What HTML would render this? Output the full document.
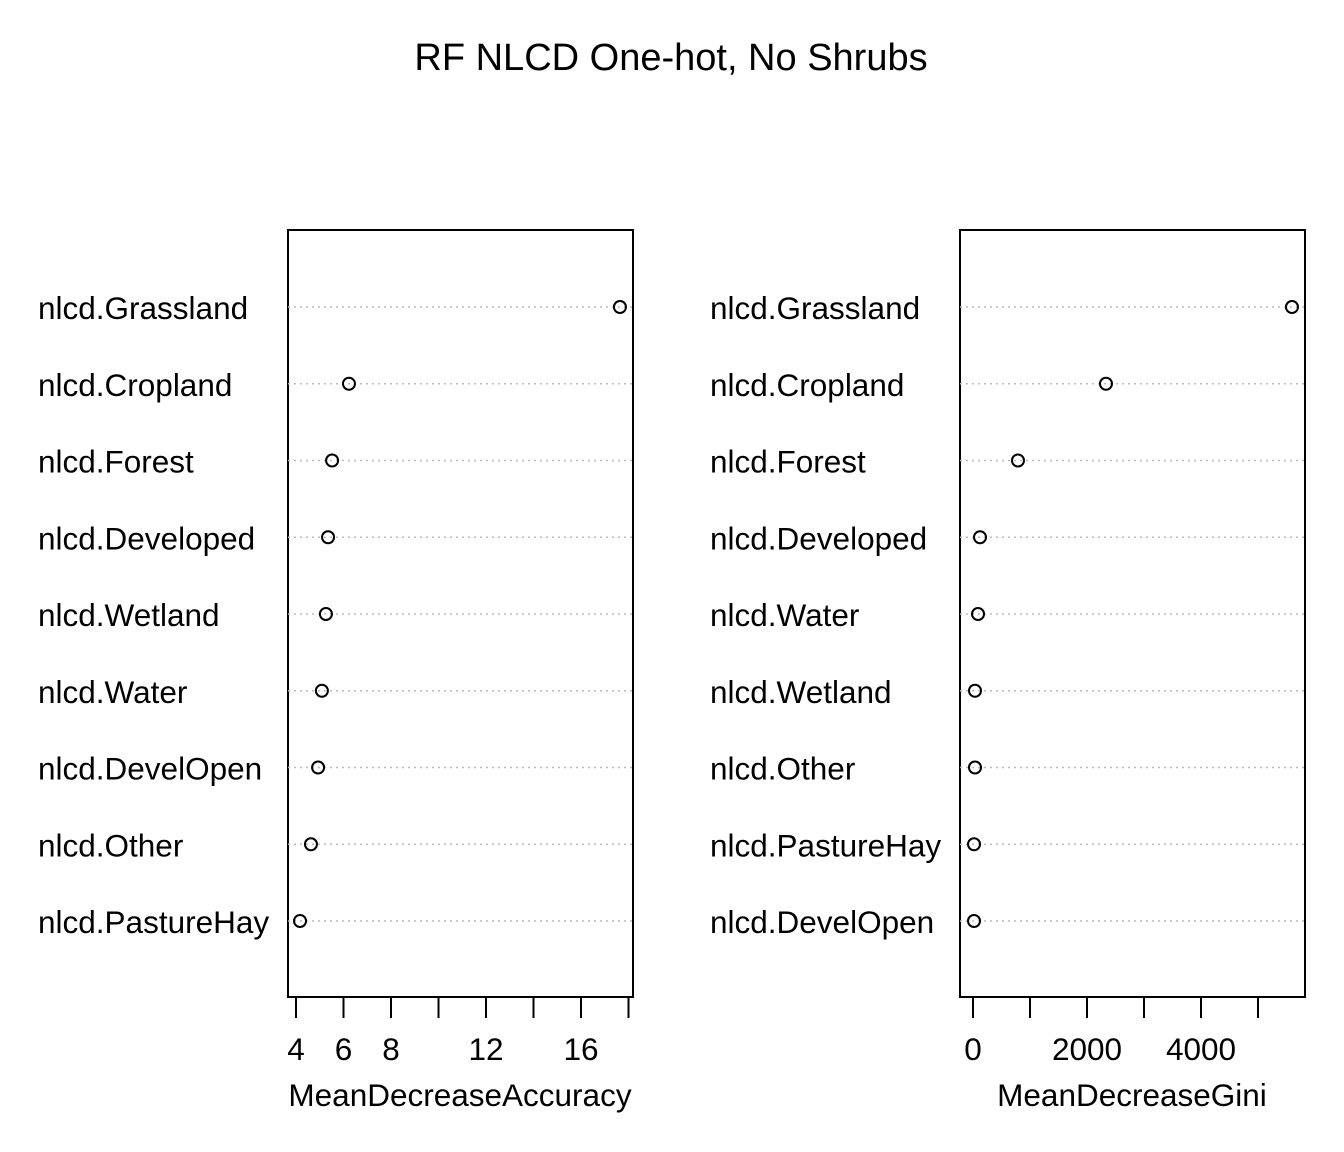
<!DOCTYPE html>
<html><head><meta charset="utf-8"><style>
html,body{margin:0;padding:0;background:#fff;}
svg{display:block;font-family:"Liberation Sans",Arial,sans-serif;}
</style></head><body>
<svg id="chart" width="1344" height="1152" viewBox="0 0 1344 1152">
<text x="671" y="70" text-anchor="middle" font-size="38">RF NLCD One-hot, No Shrubs</text>
</svg>
<script>
const accLabels=["nlcd.Grassland","nlcd.Cropland","nlcd.Forest","nlcd.Developed","nlcd.Wetland","nlcd.Water","nlcd.DevelOpen","nlcd.Other","nlcd.PastureHay"];
const accValues=[17.64,6.23,5.52,5.35,5.26,5.09,4.93,4.63,4.17];
const accTicks=[4,6,8,10,12,14,16,18];
const accTickLabels=["4","6","8","","12","","16",""];
const giniLabels=["nlcd.Grassland","nlcd.Cropland","nlcd.Forest","nlcd.Developed","nlcd.Water","nlcd.Wetland","nlcd.Other","nlcd.PastureHay","nlcd.DevelOpen"];
const giniValues=[5596,2333,789,123,88,35,35,18,18];
const giniTicks=[0,1000,2000,3000,4000,5000];
const giniTickLabels=["0","","2000","","4000",""];

const svg=document.getElementById('chart');
const NS="http://www.w3.org/2000/svg";
function mk(tag,attrs,parent){const e=document.createElementNS(NS,tag);for(const k in attrs)e.setAttribute(k,attrs[k]);(parent||svg).appendChild(e);return e;}
const rowY=i=>307+i*76.75;

function panel(opt){
  const g=mk('g',{});
  
  
  const x=v=>opt.x0+(v-opt.v0)*opt.scale;
  const box=mk('rect',{x:opt.left,y:230,width:345,height:767,fill:'none',stroke:'#000','stroke-width':2},g);
  
  
  opt.labels.forEach((lab,i)=>{
    const y=rowY(i);
    const gl=mk('line',{x1:opt.left,x2:opt.left+345,y1:y,y2:y,stroke:'#bbb','stroke-width':1.5,'stroke-dasharray':'2 4'},g);
    
    
    const t=mk('text',{x:opt.labelX,y:y+12,'font-size':31.5},g);
    t.textContent=lab;
    
    
    const c=mk('circle',{cx:x(opt.values[i]),cy:y,r:6,fill:'none',stroke:'#000','stroke-width':2},g);
    
    
  });
  const ax=mk('line',{x1:x(opt.ticks[0]),x2:x(opt.ticks[opt.ticks.length-1]),y1:997,y2:997,stroke:'#000','stroke-width':2},g);
  
  
  opt.ticks.forEach((tv,i)=>{
    const tk=mk('line',{x1:x(tv),x2:x(tv),y1:997,y2:1018,stroke:'#000','stroke-width':2},g);
    
    
    if(opt.tickLabels[i]){
      const t=mk('text',{x:x(tv),y:1060,'text-anchor':'middle','font-size':31.5},g);
      t.textContent=opt.tickLabels[i];
      
      
    }
  });
  const at=mk('text',{x:opt.left+172,y:1106,'text-anchor':'middle','font-size':31.5},g);
  at.textContent=opt.title;
  
  
}
panel({name:'accuracy-panel',left:288,labelX:38,x0:296,v0:4,scale:23.75,labels:accLabels,values:accValues,ticks:accTicks,tickLabels:accTickLabels,title:'MeanDecreaseAccuracy'});
panel({name:'gini-panel',left:960,labelX:710,x0:973,v0:0,scale:0.057,labels:giniLabels,values:giniValues,ticks:giniTicks,tickLabels:giniTickLabels,title:'MeanDecreaseGini'});
</script>
</body></html>
